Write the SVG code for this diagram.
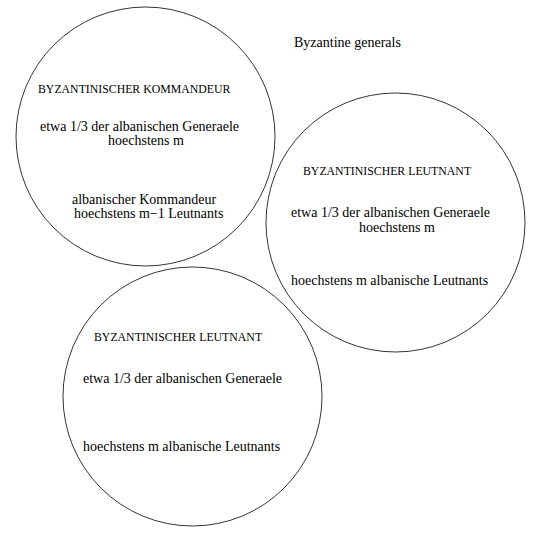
<svg xmlns="http://www.w3.org/2000/svg" width="541" height="537" viewBox="0 0 541 537">
<style>
.c{fill:none;stroke:#000;stroke-width:0.8}
.t{font-family:"Liberation Serif","Times New Roman",serif;font-size:14px;fill:#000}
.k{font-family:"Liberation Serif","Times New Roman",serif;font-size:11.8px;fill:#000}
</style>
<rect width="541" height="537" fill="#fff"/>
<text class="t" x="294" y="47">Byzantine generals</text>
<g id="kommandeur">
<circle class="c" cx="145.5" cy="136.5" r="129.5"/>
<text class="k" x="38" y="93">BYZANTINISCHER KOMMANDEUR</text>
<text class="t" x="40" y="131">etwa 1/3 der albanischen Generaele</text>
<text class="t" x="108" y="145">hoechstens m</text>
<text class="t" x="72" y="204">albanischer Kommandeur</text>
<text class="t" x="74" y="218">hoechstens m−1 Leutnants</text>
</g>
<g id="leutnant1">
<circle class="c" cx="395.5" cy="222.5" r="129.5"/>
<text class="k" x="303" y="175">BYZANTINISCHER LEUTNANT</text>
<text class="t" x="291" y="217">etwa 1/3 der albanischen Generaele</text>
<text class="t" x="359" y="232">hoechstens m</text>
<text class="t" x="291" y="285">hoechstens m albanische Leutnants</text>
</g>
<g id="leutnant2">
<circle class="c" cx="192.5" cy="396.5" r="129.5"/>
<text class="k" x="94" y="341">BYZANTINISCHER LEUTNANT</text>
<text class="t" x="83" y="383">etwa 1/3 der albanischen Generaele</text>
<text class="t" x="83" y="451">hoechstens m albanische Leutnants</text>
</g>
<g id="connectors"/>
</svg>
